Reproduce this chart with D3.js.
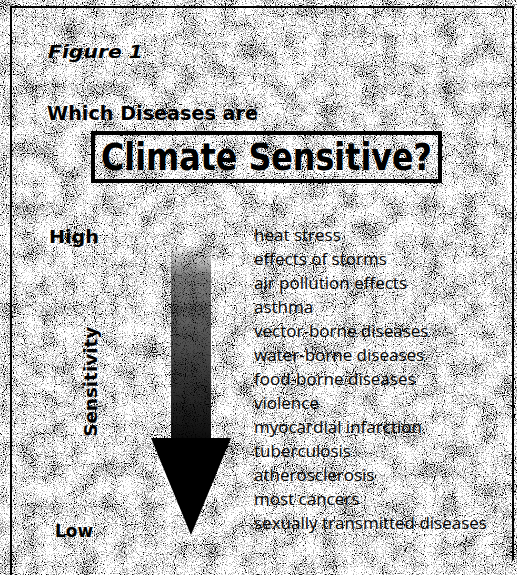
<!DOCTYPE html>
<html>
<head>
<meta charset="utf-8">
<script src="https://cdn.jsdelivr.net/npm/d3@7"></script>
<style>
  html, body { margin: 0; padding: 0; background: #fff; }
  svg { display: block; }
</style>
</head>
<body>
<div id="chart"></div>
<script>
// values, top (most sensitive) to bottom
var diseases = [
    "heat stress",
    "effects of storms",
    "air pollution effects",
    "asthma",
    "vector-borne diseases",
    "water-borne diseases",
    "food-borne diseases",
    "violence",
    "myocardial infarction",
    "tuberculosis",
    "atherosclerosis",
    "most cancers",
    "sexually transmitted diseases"
];
var levels = ["High", "Low"];
var levelValues = [1, 0];
var figureLabel = "Figure 1";
var titleTop = "Which Diseases are";
var titleBox = "Climate Sensitive?";
var axisTitle = "Sensitivity";

var width = 517,
    height = 575;
var heavy = "DejaVu Sans, Verdana, sans-serif";

var svg = d3.select("#chart").append("svg")
    .attr("width", width)
    .attr("height", height);

var defs = svg.append("defs");

// halftone speckle of the printed page
var grain = defs.append("filter")
    .attr("id", "grain")
    .attr("x", 0).attr("y", 0)
    .attr("width", width).attr("height", height)
    .attr("filterUnits", "userSpaceOnUse")
    .attr("color-interpolation-filters", "sRGB");
grain.append("feTurbulence")
    .attr("type", "fractalNoise")
    .attr("baseFrequency", 0.9)
    .attr("numOctaves", 1)
    .attr("seed", 4)
    .attr("result", "fineRaw");
grain.append("feColorMatrix")
    .attr("in", "fineRaw")
    .attr("type", "matrix")
    .attr("values", "1 0 0 0 0  1 0 0 0 0  1 0 0 0 0  0 0 0 0 1")
    .attr("result", "fine");
grain.append("feTurbulence")
    .attr("type", "fractalNoise")
    .attr("baseFrequency", 0.05)
    .attr("numOctaves", 2)
    .attr("seed", 9)
    .attr("result", "coarseRaw");
grain.append("feColorMatrix")
    .attr("in", "coarseRaw")
    .attr("type", "matrix")
    .attr("values", "1 0 0 0 0  1 0 0 0 0  1 0 0 0 0  0 0 0 0 1")
    .attr("result", "coarse");
grain.append("feComposite")
    .attr("in", "fine")
    .attr("in2", "coarse")
    .attr("operator", "arithmetic")
    .attr("k2", 1.6)
    .attr("k3", 0.55)
    .attr("k4", -0.57)
    .attr("result", "mix");
var ct = grain.append("feComponentTransfer").attr("in", "mix");
["feFuncR", "feFuncG", "feFuncB"].forEach(function (f) {
    ct.append(f).attr("type", "discrete").attr("tableValues", "0 0 0.45 0.68 0.85 1 1 1 1 1");
});
ct.append("feFuncA").attr("type", "linear").attr("slope", 0).attr("intercept", 1);

// shaft fades in from the top
var grad = defs.append("linearGradient")
    .attr("id", "shaft")
    .attr("x1", 0).attr("y1", 0)
    .attr("x2", 0).attr("y2", 1);
grad.append("stop").attr("offset", "0%").attr("stop-color", "#000").attr("stop-opacity", 0);
grad.append("stop").attr("offset", "15%").attr("stop-color", "#000").attr("stop-opacity", 0.5);
grad.append("stop").attr("offset", "100%").attr("stop-color", "#000").attr("stop-opacity", 0.95);

svg.append("rect")
    .attr("width", width)
    .attr("height", height)
    .attr("fill", "#fff")
    .attr("filter", "url(#grain)");

// frame
svg.append("path")
    .attr("d", "M11,575 V7 H513 V560")
    .attr("fill", "none")
    .attr("stroke", "#000")
    .attr("stroke-width", 2);

// scales
var y = d3.scalePoint()
    .domain(diseases)
    .range([241, 529]);
var s = d3.scaleLinear()
    .domain([1, 0])
    .range([246, 535]);
var xArrow = d3.scaleLinear()
    .domain([-1, 1])
    .range([151, 231]);

// headings
svg.append("text")
    .attr("x", 48).attr("y", 58)
    .attr("textLength", 95)
    .attr("lengthAdjust", "spacingAndGlyphs")
    .style("font-family", heavy)
    .style("font-weight", "bold")
    .style("font-style", "italic")
    .style("font-size", "17px")
    .text(figureLabel);

svg.append("text")
    .attr("x", 47).attr("y", 120)
    .attr("textLength", 211)
    .attr("lengthAdjust", "spacingAndGlyphs")
    .style("font-family", heavy)
    .style("font-weight", "bold")
    .style("font-size", "19px")
    .text(titleTop);

svg.append("rect")
    .attr("x", 93).attr("y", 133)
    .attr("width", 347).attr("height", 48)
    .attr("fill", "none")
    .attr("stroke", "#000")
    .attr("stroke-width", 4);

svg.append("text")
    .attr("x", 101).attr("y", 170)
    .attr("textLength", 331)
    .attr("lengthAdjust", "spacingAndGlyphs")
    .style("font-family", heavy)
    .style("font-weight", "bold")
    .style("font-size", "37px")
    .text(titleBox);

// arrow
var shaftHalf = 0.5,
    headTop = 438;
svg.append("rect")
    .attr("x", xArrow(-shaftHalf))
    .attr("y", s(1))
    .attr("width", xArrow(shaftHalf) - xArrow(-shaftHalf))
    .attr("height", headTop - s(1) + 1)
    .attr("fill", "url(#shaft)");

svg.append("path")
    .attr("d", d3.line()([
        [xArrow(-1), headTop],
        [xArrow(1), headTop],
        [xArrow(0), s(0)]
    ]) + "Z")
    .attr("fill", "#000");

// High / Low
var levelX = [49, 55],
    levelW = [50, 38];
svg.selectAll(".level")
    .data(levels)
    .enter().append("text")
    .attr("class", "level")
    .attr("x", function (d, i) { return levelX[i]; })
    .attr("y", function (d, i) { return i == 0 ? s(levelValues[i]) - 3 : s(levelValues[i]) + 2; })
    .attr("textLength", function (d, i) { return levelW[i]; })
    .attr("lengthAdjust", "spacingAndGlyphs")
    .style("font-family", heavy)
    .style("font-weight", "bold")
    .style("font-size", "17px")
    .text(function (d) { return d; });

svg.append("text")
    .attr("transform", "translate(97," + s(0.53) + ") rotate(-90)")
    .attr("text-anchor", "middle")
    .attr("textLength", 110)
    .attr("lengthAdjust", "spacingAndGlyphs")
    .style("font-family", heavy)
    .style("font-weight", "bold")
    .style("font-size", "17px")
    .text(axisTitle);

// disease list
svg.append("g")
    .selectAll("text")
    .data(diseases)
    .enter().append("text")
    .attr("x", 254)
    .attr("y", function (d) { return y(d); })
    .style("font-family", "Open Sans, sans-serif")
    .style("font-size", "17px")
    .style("fill", "#000")
    .text(function (d) { return d; });
</script>
</body>
</html>
